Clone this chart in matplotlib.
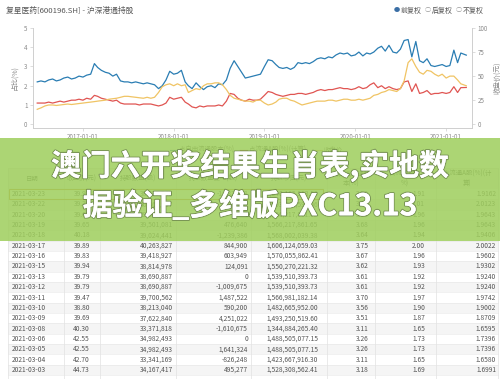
import numpy as np
import pandas as pd
import matplotlib
matplotlib.use('Agg')
import matplotlib.pyplot as plt
import matplotlib.patheffects as pe
from matplotlib.patches import Rectangle

plt.rcParams['font.family'] = ['Noto Sans CJK SC', 'DejaVu Sans']

# ---------------- data ----------------
months = pd.date_range('2016-07-01', '2021-03-01', freq='MS')
dates = []
for m in months:
    dates.append(m)
    dates.append(m + pd.Timedelta(days=15))
dates[-1] = pd.Timestamp('2021-03-23')

# 占自由流通股本(%)
free_pct = [
    2.20, 2.25, 2.20, 2.30, 2.35, 2.25, 2.30, 2.40, 2.45, 2.35, 2.40, 2.50,
    2.45, 2.55, 2.60, 3.15, 2.95, 2.80, 2.70, 2.65, 2.50, 2.60, 2.25, 2.20,
    2.20, 2.15, 2.20, 2.15, 2.10, 2.15, 2.10, 2.05, 1.85, 2.00, 2.30, 2.75,
    2.60, 2.65, 2.80, 2.20, 2.00, 1.85, 2.15, 1.95, 1.80, 1.95, 2.00, 1.90,
    2.10, 2.05, 2.30, 2.90, 3.30, 3.00, 2.70, 2.40, 2.45, 2.50, 2.55, 2.60,
    3.00, 3.35, 3.30, 3.10, 2.95, 2.90, 2.95, 2.85, 2.95, 3.20, 3.15, 3.20,
    3.15, 3.25, 3.40, 3.45, 3.40, 3.50, 3.45, 3.60, 3.70, 3.65, 3.70, 3.55,
    3.60, 3.75, 3.55, 3.70, 3.65, 3.75, 3.95, 4.05, 3.80, 4.10, 3.75, 3.70,
    3.90, 4.35, 4.40, 3.50, 4.30, 3.30, 3.20, 3.40, 3.05, 3.00, 3.05, 3.10,
    3.00, 3.05, 3.85, 3.20, 3.70, 3.59,
]
# 占流通A股(%)(计算)
a_pct = [
    1.10, 1.10, 1.10, 1.15, 1.10, 1.15, 1.20, 1.15, 1.20, 1.25, 1.25, 1.30,
    1.25, 1.35, 1.30, 1.50, 1.45, 1.35, 1.30, 1.25, 1.20, 1.25, 1.10, 1.05,
    1.05, 1.05, 1.05, 1.00, 1.05, 1.05, 1.05, 1.00, 0.95, 1.00, 1.10, 1.40,
    1.30, 1.35, 1.40, 1.15, 1.05, 0.90, 0.85, 0.95, 0.90, 0.95, 0.95, 0.95,
    1.00, 0.95, 1.20, 1.60, 1.55, 1.35, 1.25, 1.20, 1.30, 1.25, 1.25, 1.30,
    1.50, 1.70, 1.65, 1.55, 1.50, 1.45, 1.50, 1.55, 1.55, 1.60, 1.60, 1.55,
    1.60, 1.65, 1.75, 1.80, 1.75, 1.80, 1.80, 1.85, 1.90, 1.85, 1.85, 1.80,
    1.85, 1.95, 1.85, 1.90, 2.05, 2.15, 1.90, 2.00, 1.85, 1.95, 1.85, 1.80,
    1.85, 2.20, 2.25, 1.70, 2.10, 1.60, 1.65, 1.75, 1.55, 1.60, 1.60, 1.65,
    1.60, 1.65, 1.95, 1.65, 1.90, 1.91,
]
# 收盘价(元)
close_px = [
    15.5, 17.0, 19.0, 20.0, 20.0, 19.5, 20.0, 20.5, 21.0, 20.5, 21.0, 21.5,
    22.0, 22.5, 23.0, 23.5, 24.0, 24.5, 25.0, 26.0, 26.5, 27.0, 28.0, 29.0,
    29.0, 28.5, 28.0, 27.5, 27.0, 28.0, 27.0, 28.0, 33.0, 39.0, 41.0, 42.0,
    40.0, 42.0, 40.0, 41.0, 33.0, 35.0, 37.0, 36.0, 40.0, 42.0, 42.0, 43.0,
    43.0, 41.0, 36.0, 30.0, 27.0, 26.0, 25.0, 24.0, 24.0, 23.0, 25.0, 25.0,
    22.0, 20.0, 21.0, 23.0, 26.0, 27.0, 27.0, 25.0, 24.0, 22.0, 20.0, 21.0,
    22.0, 23.0, 24.0, 24.0, 24.0, 25.0, 25.0, 24.0, 25.0, 26.0, 26.0, 25.0,
    25.0, 26.0, 25.0, 26.0, 27.0, 30.0, 31.0, 33.0, 34.0, 36.0, 35.0, 34.0,
    37.0, 45.0, 64.0, 68.0, 60.0, 54.0, 52.0, 56.0, 55.0, 52.0, 50.0, 52.0,
    48.0, 50.0, 50.0, 46.0, 42.0, 39.97,
]

left_ticks = [0, 1, 2, 3, 4, 5]
right_ticks = [0, 25, 50, 75, 100]
x_tick_labels = ['2017-01-01', '2018-01-01', '2019-01-01', '2020-01-01', '2021-01-01']

legend_labels = ['占自由流通股本(%)', '占流通A股(%)(计算)', '收盘价']

header_labels = ['日期', '收盘价(元)', '持股数量(股)', '持股数量变动(股)', '持股市值(元)',
                 '占自由流通股\n本(%)', '占流通A股(\n%)', '占流通A股(%)(计\n算)']

row_dates = ['2021-03-23', '2021-03-22', '2021-03-20', '2021-03-19', '2021-03-18',
             '2021-03-17', '2021-03-16', '2021-03-15', '2021-03-13', '2021-03-12',
             '2021-03-11', '2021-03-10', '2021-03-09', '2021-03-08', '2021-03-06',
             '2021-03-05', '2021-03-04', '2021-03-03']
row_close = [39.97, 39.38, 39.65, 39.65, 40.18, 39.89, 39.83, 39.94, 39.79, 39.79,
             39.47, 38.80, 39.69, 40.30, 42.55, 42.55, 42.70, 44.73]
row_shares = [38533549, 40465937, 39501081, 39501081, 39024441, 40263827, 39418927,
              38814978, 38690887, 38690887, 39700562, 38213040, 37622840, 33371818,
              34982493, 34982493, 33341169, 34167417]
row_change = [-1932388, 964856, 0, 476640, -1239386, 844900, 603949, 124091, 0,
              -1009675, 1487522, 590200, 4251022, -1610675, 0, 1641324, -826248, 495277]
row_value = [1540185953.53, 1593548599.06, 1566217861.65, 1566217861.65, 1568002039.38,
             1606124059.03, 1570055862.41, 1550270221.32, 1539510393.73, 1539510393.73,
             1566981182.14, 1482665952.00, 1493250519.60, 1344884265.40, 1488505077.15,
             1488505077.15, 1423667916.30, 1528308562.41]
row_free = [3.59, 3.77, 3.68, 3.68, 3.64, 3.75, 3.67, 3.62, 3.61, 3.61, 3.70, 3.56,
            3.51, 3.11, 3.26, 3.26, 3.11, 3.18]
row_a = [1.91, 2.01, 1.96, 1.96, 1.94, 2.00, 1.96, 1.93, 1.92, 1.92, 1.97, 1.90,
         1.87, 1.65, 1.73, 1.73, 1.65, 1.69]
row_a_calc = [1.9162, 2.0123, 1.9643, 1.9643, 1.9406, 2.0022, 1.9602, 1.9302, 1.9240,
              1.9240, 1.9742, 1.9002, 1.8709, 1.6595, 1.7396, 1.7396, 1.6580, 1.6991]

title_text = '复星医药[600196.SH] - 沪深港通持股'
overlay_line1 = '澳门六开奖结果生肖表,实地数'
overlay_line2 = '据验证_多维版PXC13.13'

# ---------------- figure ----------------
W, H = 500, 379
fig = plt.figure(figsize=(5, 3.79), dpi=100)
fig.patch.set_facecolor('white')

BLUE = '#2a7db3'
RED = '#e05552'
YEL = '#f0c464'
TICKC = '#8a8a8a'
SPC = '#cfcfcf'

ax = fig.add_axes([33 / W, 1 - 127.5 / H, (472 - 33) / W, (127.5 - 28) / H])
ax.plot(dates, free_pct, color=BLUE, lw=0.9, zorder=3)
ax.plot(dates, a_pct, color=RED, lw=0.9, zorder=3)
ax2 = ax.twinx()
ax2.plot(dates, close_px, color=YEL, lw=0.9, zorder=2)

ax.set_xlim(pd.Timestamp('2016-06-14'), pd.Timestamp('2021-04-15'))
ax.set_ylim(-0.17, 5)
ax2.set_ylim(-3.4, 100)
ax.set_yticks(left_ticks)
ax.set_yticklabels([str(t) for t in left_ticks])
ax2.set_yticks(right_ticks)
ax2.set_yticklabels([str(t) for t in right_ticks])
ax.set_xticks([pd.Timestamp(s) for s in x_tick_labels])
ax.set_xticklabels(x_tick_labels)

for a in (ax, ax2):
    a.set_facecolor('none')
    for s in a.spines.values():
        s.set_color(SPC)
        s.set_linewidth(0.6)
    a.spines['top'].set_visible(False)
    a.tick_params(axis='both', colors=SPC, labelcolor=TICKC, labelsize=4.5,
                  length=2, width=0.5, pad=2)
ax.set_ylabel('占比(%)', fontsize=5, color=TICKC, labelpad=4)
ax2.set_ylabel('收盘价(元)', fontsize=5, color=TICKC, labelpad=4)

# ---------------- overlay (pixel coordinates) ----------------
ov = fig.add_axes([0, 0, 1, 1])
ov.set_xlim(0, W)
ov.set_ylim(H, 0)
ov.axis('off')

ov.text(6, 11, title_text, fontsize=5.6, color='#555555', va='center', ha='left')
# radio buttons
ov.text(394, 10.5, '●', fontsize=4.5, color='#3a6ea5', va='center', ha='left')
ov.text(401, 10.5, '前复权', fontsize=5, color='#555555', va='center', ha='left')
ov.text(425, 10.5, '○', fontsize=4.5, color='#999999', va='center', ha='left')
ov.text(432, 10.5, '后复权', fontsize=5, color='#555555', va='center', ha='left')
ov.text(456, 10.5, '○', fontsize=4.5, color='#999999', va='center', ha='left')
ov.text(463, 10.5, '不复权', fontsize=5, color='#555555', va='center', ha='left')

# legend of table area
leg_x = [170, 240, 315]
for lx, lab, col in zip(leg_x, legend_labels, [BLUE, RED, YEL]):
    ov.plot([lx, lx + 7], [150, 150], color=col, lw=0.8)
    ov.text(lx + 9, 150, lab, fontsize=4.6, color='#666666', va='center', ha='left')

# table
TC = '#555555'
FS = 4.8
row_h = 10.35
y0 = 194
col_lines = [8, 64, 100, 176, 251, 327, 375, 436, 498]
# header
ov.add_patch(Rectangle((8, 168), 490, 20.5, facecolor='#f3f3f3', edgecolor='#dddddd', lw=0.5))
head_x = [32, 82, 138, 213, 289, 351, 405, 467]
for hx, hl in zip(head_x, header_labels):
    ov.text(hx, 178.5, hl, fontsize=4.6, color=TC, ha='center', va='center', linespacing=1.3)

for i in range(len(row_dates)):
    yc = y0 + i * row_h
    fc = '#ffffff' if i % 2 == 0 else '#f5f5f5'
    ov.add_patch(Rectangle((8, yc - row_h / 2), 490, row_h, facecolor=fc,
                           edgecolor='none', zorder=1))
    ov.text(12, yc, row_dates[i], fontsize=FS, color=TC, ha='left', va='center', zorder=2)
    ov.text(90, yc, f'{row_close[i]:.2f}', fontsize=FS, color=TC, ha='right', va='center', zorder=2)
    ov.text(173, yc, f'{row_shares[i]:,}', fontsize=FS, color=TC, ha='right', va='center', zorder=2)
    ov.text(248, yc, f'{row_change[i]:,}', fontsize=FS, color=TC, ha='right', va='center', zorder=2)
    ov.text(318, yc, f'{row_value[i]:,.2f}', fontsize=FS, color=TC, ha='right', va='center', zorder=2)
    ov.text(369, yc, f'{row_free[i]:.2f}', fontsize=FS, color=TC, ha='right', va='center', zorder=2)
    ov.text(425, yc, f'{row_a[i]:.2f}', fontsize=FS, color=TC, ha='right', va='center', zorder=2)
    ov.text(496, yc, f'{row_a_calc[i]:.4f}', fontsize=FS, color=TC, ha='right', va='center', zorder=2)
    ov.plot([8, 498], [yc + row_h / 2, yc + row_h / 2], color='#e6e6e6', lw=0.4, zorder=1.5)
y_top = 168
y_bot = y0 + (len(row_dates) - 0.5) * row_h + 5
for cx in col_lines:
    ov.plot([cx, cx], [y_top, y_bot], color='#e2e2e2', lw=0.5, zorder=1.5)

# highlighted first row
ov.add_patch(Rectangle((9, y0 - 5.3), 314, 10.6, facecolor='none', edgecolor='#c9963a',
                       lw=0.8, zorder=3))

# green overlay band
ov.add_patch(Rectangle((0, 138), W, 103, facecolor='#9fce5d', edgecolor='none',
                       alpha=0.86, zorder=5))

fx = [pe.withStroke(linewidth=1.6, foreground=(0.25, 0.3, 0.2, 0.45)), pe.Normal()]
ov.text(250, 166, overlay_line1, fontsize=21.5, fontweight='bold', color='white',
        ha='center', va='center', zorder=6, path_effects=fx)
ov.text(250, 206, overlay_line2, fontsize=21.5, fontweight='bold', color='white',
        ha='center', va='center', zorder=6, path_effects=fx)

fig.savefig('out.png', dpi=100)
